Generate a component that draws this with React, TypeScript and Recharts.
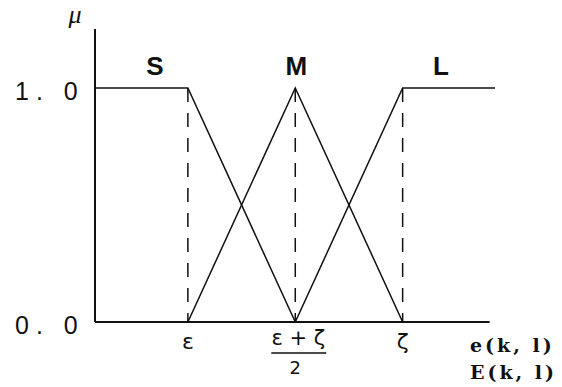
import { LineChart, Line, XAxis, YAxis, ReferenceLine, ReferenceDot } from 'recharts'

// membership functions S, M, L over the error axis (ε = 1, (ε+ζ)/2 = 2, ζ = 3)
const xMin = 0.135
const xMax = 3.86
const xAxisEnd = 3.81
const yMax = 1.252

const sPoints = [
  { x: 0.135, y: 1 },
  { x: 1, y: 1 },
  { x: 2, y: 0 },
]
const mPoints = [
  { x: 1, y: 0 },
  { x: 2, y: 1 },
  { x: 3, y: 0 },
]
const lPoints = [
  { x: 2, y: 0 },
  { x: 3, y: 1 },
  { x: 3.86, y: 1 },
]

const xTicks = [1, 2, 3]
const yTicks = [0, 1]
const yTickLabels: Record<number, string> = { 0: '0. 0', 1: '1. 0' }

const setLabels = [
  { name: 'S', x: 0.694, y: 1.094 },
  { name: 'M', x: 2.01, y: 1.094 },
  { name: 'L', x: 3.357, y: 1.094 },
]
const axisTitles = [
  { text: 'e(k, l)', x: 3.627, y: -0.108 },
  { text: 'E(k, l)', x: 3.627, y: -0.222 },
]

const ink = '#111'
const greekFont = '"DejaVu Sans", sans-serif'

function XTick({ x, y, payload }: any) {
  const v = payload.value
  if (v === 2) {
    return (
      <g fill={ink} fontFamily={greekFont}>
        <text x={x + 3} y={y + 23} textAnchor="middle" fontSize={21}>ε + ζ</text>
        <line x1={x - 24} x2={x + 31} y1={y + 31} y2={y + 31} stroke={ink} strokeWidth={1.5} />
        <text x={x} y={y + 52} textAnchor="middle" fontSize={18}>2</text>
      </g>
    )
  }
  return (
    <text x={x} y={y + 27} textAnchor="middle" fontSize={22} fill={ink} fontFamily={greekFont}>
      {v === 1 ? 'ε' : 'ζ'}
    </text>
  )
}

function YTick({ x, y, payload }: any) {
  return (
    <text x={x - 80} y={y + 12} fontSize={25} letterSpacing={7} fill={ink} fontFamily="Arial, 'Liberation Sans', sans-serif">
      {yTickLabels[payload.value]}
    </text>
  )
}

const setLabel = (name: string) => ({ viewBox }: any) => (
  <text x={viewBox.x} y={viewBox.y + 9} textAnchor="middle" fontSize={26} fontWeight="bold" fill={ink} fontFamily="Arial, 'Liberation Sans', sans-serif">
    {name}
  </text>
)

const axisTitle = (text: string) => ({ viewBox }: any) => (
  <text x={viewBox.x} y={viewBox.y + 5} fontSize={19} fontWeight="bold" letterSpacing={3} fill={ink} fontFamily="'DejaVu Serif', serif">
    {text}
  </text>
)

const muLabel = ({ viewBox }: any) => (
  <text x={viewBox.x} y={viewBox.y + 3} textAnchor="middle" fontSize={26} fontStyle="italic" fill={ink} fontFamily="'Liberation Serif', serif">
    μ
  </text>
)

export default function App() {
  return (
    <div style={{ position: 'absolute', left: 0, top: 0, background: '#fff' }}>
      <LineChart width={562} height={387} margin={{ top: 29, right: 67, bottom: 0, left: 0 }}>
        <XAxis
          type="number"
          dataKey="x"
          domain={[xMin, xMax]}
          ticks={xTicks}
          axisLine={false}
          tickLine={false}
          tickSize={0}
          tickMargin={0}
          height={65}
          tick={<XTick />}
          interval={0}
        />
        <YAxis
          type="number"
          domain={[0, yMax]}
          ticks={yTicks}
          width={95}
          axisLine={{ stroke: ink, strokeWidth: 2 }}
          tickLine={false}
          tickSize={0}
          tickMargin={0}
          tick={<YTick />}
          interval={0}
        />
        <ReferenceLine
          segment={[{ x: xMin, y: 0 }, { x: xAxisEnd, y: 0 }]}
          stroke={ink}
          strokeWidth={2}
        />
        {xTicks.map((t) => (
          <ReferenceLine
            key={t}
            segment={[{ x: t, y: 1 }, { x: t, y: 0 }]}
            stroke={ink}
            strokeWidth={1.5}
            strokeDasharray="14 11"
          />
        ))}
        <Line data={sPoints} dataKey="y" stroke={ink} strokeWidth={1.5} dot={false} activeDot={false} isAnimationActive={false} />
        <Line data={mPoints} dataKey="y" stroke={ink} strokeWidth={1.5} dot={false} activeDot={false} isAnimationActive={false} />
        <Line data={lPoints} dataKey="y" stroke={ink} strokeWidth={1.5} dot={false} activeDot={false} isAnimationActive={false} />
        {setLabels.map((s) => (
          <ReferenceDot key={s.name} x={s.x} y={s.y} r={0} fill="none" stroke="none" label={setLabel(s.name)} />
        ))}
        {axisTitles.map((t) => (
          <ReferenceDot key={t.text} x={t.x} y={t.y} r={0} fill="none" stroke="none" ifOverflow="visible" label={axisTitle(t.text)} />
        ))}
        <ReferenceDot x={-0.051} y={1.29} r={0} fill="none" stroke="none" ifOverflow="visible" label={muLabel} />
      </LineChart>
    </div>
  )
}
